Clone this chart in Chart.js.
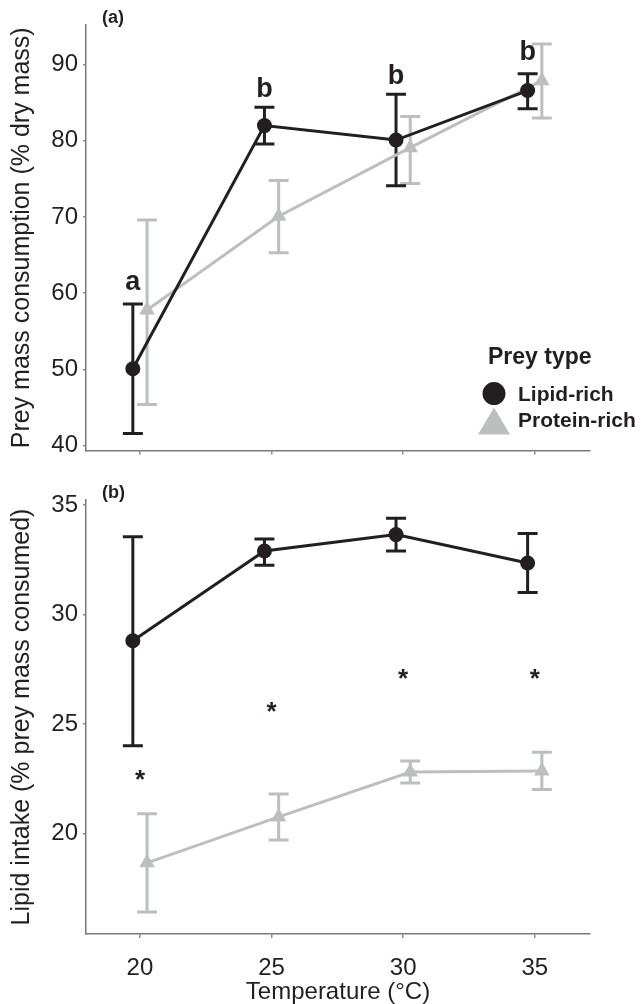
<!DOCTYPE html>
<html>
<head>
<meta charset="utf-8">
<script src="https://cdn.jsdelivr.net/npm/chart.js@4.4.0/dist/chart.umd.min.js"></script>
<style>
body { margin: 0; background: #fff; overflow: hidden; }
#wrap { position: relative; width: 644px; height: 1004px; }
canvas { position: absolute; left: 0; }
#top { top: 0; }
#bottom { top: 470px; }
</style>
</head>
<body>
<div id="wrap">
  <canvas id="top" width="644" height="470"></canvas>
  <canvas id="bottom" width="644" height="534"></canvas>
</div>
<script>
// temperatures (x)
var temps = [20, 25, 30, 35];

// (a) prey mass consumption, % dry mass
var consLipid = [50.1, 82.0, 80.1, 86.6];
var consLipidLo = [41.6, 79.6, 74.1, 84.2];
var consLipidHi = [58.6, 84.4, 86.1, 88.8];
var consProtein = [57.8, 70.1, 79.1, 87.9];
var consProteinLo = [45.4, 65.3, 74.4, 83.0];
var consProteinHi = [69.6, 74.8, 83.2, 92.7];
var consLetters = ['a', 'b', 'b', 'b'];
var consLetterY = [61.4, 86.7, 88.4, 91.6];
var consTicks = [40, 50, 60, 70, 80, 90];

// (b) lipid intake, % prey mass consumed
var lipLipid = [28.8, 32.9, 33.65, 32.35];
var lipLipidLo = [24.0, 32.25, 32.9, 31.0];
var lipLipidHi = [33.55, 33.45, 34.4, 33.7];
var lipProtein = [18.65, 20.75, 22.8, 22.85];
var lipProteinLo = [16.4, 19.7, 22.3, 22.0];
var lipProteinHi = [20.9, 21.8, 23.3, 23.7];
var starY = [22.4, 25.5, 27.0, 27.0];
var lipTicks = [20, 25, 30, 35];

var BLACK = '#231f20';
var GREY = '#bcbec0';
var FONT = "'Liberation Sans', Arial, Helvetica, sans-serif";
var DODGE = 0.27;

function pts(vals, shift) {
    return vals.map(function (v, i) { return { x: temps[i] + shift, y: v }; });
}

function series(label, vals, lo, hi, shift, color, style, radius) {
    return {
        label: label,
        data: pts(vals, shift),
        errLow: lo,
        errHigh: hi,
        borderColor: color,
        backgroundColor: color,
        borderWidth: 3,
        pointStyle: style,
        pointRadius: radius,
        pointBorderWidth: 0,
        pointBackgroundColor: color,
        tension: 0
    };
}

var errorBars = {
    id: 'errorBars',
    beforeDatasetsDraw: function (chart) {
        var ctx = chart.ctx, xs = chart.scales.x, ys = chart.scales.y;
        for (var d = chart.data.datasets.length - 1; d >= 0; d--) {
            var ds = chart.data.datasets[d];
            ctx.save();
            ctx.strokeStyle = ds.borderColor;
            ctx.lineWidth = 3;
            ds.data.forEach(function (p, i) {
                var x = xs.getPixelForValue(p.x);
                var t = ys.getPixelForValue(ds.errHigh[i]);
                var b = ys.getPixelForValue(ds.errLow[i]);
                ctx.beginPath();
                ctx.moveTo(x, t); ctx.lineTo(x, b);
                ctx.moveTo(x - 10, t); ctx.lineTo(x + 10, t);
                ctx.moveTo(x - 10, b); ctx.lineTo(x + 10, b);
                ctx.stroke();
            });
            ctx.restore();
        }
    }
};

function scaleOpts(yMin, yMax, yTicks, yTitle, showX, xHeight) {
    return {
        x: {
            type: 'linear',
            min: 17.95,
            max: 37.1,
            afterBuildTicks: function (s) { s.ticks = temps.map(function (v) { return { value: v }; }); },
            afterFit: function (s) { s.height = xHeight; },
            ticks: { display: showX, color: BLACK, font: { family: FONT, size: 24 }, padding: 16 },
            grid: { drawOnChartArea: false, tickLength: 4, color: '#8a8a8a', lineWidth: 1.5 },
            border: { color: '#7a7a7a', width: 1.5 },
            title: { display: showX, text: 'Temperature (°C)', color: BLACK, font: { family: FONT, size: 24, lineHeight: 1 }, padding: 0 }
        },
        y: {
            min: yMin,
            max: yMax,
            afterBuildTicks: function (s) { s.ticks = yTicks.map(function (v) { return { value: v }; }); },
            afterFit: function (s) { s.width = 86; },
            ticks: { color: BLACK, font: { family: FONT, size: 24 }, padding: 5 },
            grid: { drawOnChartArea: false, tickLength: 3, color: '#8a8a8a', lineWidth: 1.5 },
            border: { color: '#7a7a7a', width: 1.5 },
            title: { display: true, text: yTitle, color: BLACK, font: { family: FONT, size: 25 }, padding: { top: 7, bottom: 0 } }
        }
    };
}

function textPlugin(id, panel, items) {
    return {
        id: id,
        afterDraw: function (chart) {
            var ctx = chart.ctx, xs = chart.scales.x, ys = chart.scales.y;
            ctx.save();
            ctx.fillStyle = BLACK;
            ctx.textAlign = 'center';
            ctx.textBaseline = 'middle';
            items.forEach(function (it) {
                ctx.font = it.font;
                ctx.fillText(it.text, xs.getPixelForValue(it.x), ys.getPixelForValue(it.y));
            });
            ctx.font = 'bold 18px ' + FONT;
            ctx.textAlign = 'left';
            ctx.fillText(panel, chart.chartArea.left + 16, chart.chartArea.top - 7);
            ctx.restore();
        }
    };
}

var legendPlugin = {
    id: 'preyLegend',
    afterDraw: function (chart) {
        var ctx = chart.ctx, a = chart.chartArea;
        var lx = a.right - 96, ty = a.bottom - 93;
        ctx.save();
        ctx.fillStyle = BLACK;
        ctx.textBaseline = 'middle';
        ctx.textAlign = 'left';
        ctx.font = 'bold 23px ' + FONT;
        ctx.fillText('Prey type', lx - 6, ty);
        ctx.beginPath();
        ctx.arc(lx, ty + 36, 11.5, 0, Math.PI * 2);
        ctx.fill();
        ctx.fillStyle = GREY;
        ctx.beginPath();
        ctx.moveTo(lx, ty + 50);
        ctx.lineTo(lx + 16, ty + 77);
        ctx.lineTo(lx - 16, ty + 77);
        ctx.closePath();
        ctx.fill();
        ctx.fillStyle = BLACK;
        ctx.font = 'bold 21px ' + FONT;
        ctx.fillText('Lipid-rich', lx + 24, ty + 38);
        ctx.fillText('Protein-rich', lx + 24, ty + 64);
        ctx.restore();
    }
};

var letterItems = temps.map(function (t, i) {
    return { x: t - DODGE, y: consLetterY[i], text: consLetters[i], font: 'bold 27px ' + FONT };
});
var starItems = temps.map(function (t, i) {
    return { x: t, y: starY[i], text: '*', font: 'bold 26px ' + FONT };
});

new Chart(document.getElementById('top').getContext('2d'), {
    type: 'line',
    data: {
        datasets: [
            series('Lipid-rich', consLipid, consLipidLo, consLipidHi, -DODGE, BLACK, 'circle', 7.5),
            series('Protein-rich', consProtein, consProteinLo, consProteinHi, DODGE, GREY, 'triangle', 9)
        ]
    },
    options: {
        responsive: false,
        animation: false,
        layout: { padding: { top: 25, right: 54, left: 0, bottom: 0 } },
        plugins: { legend: { display: false }, tooltip: { enabled: false } },
        scales: scaleOpts(39.35, 95.2, consTicks, 'Prey mass consumption (% dry mass)', false, 17)
    },
    plugins: [errorBars, textPlugin('lettersA', '(a)', letterItems), legendPlugin]
});

new Chart(document.getElementById('bottom').getContext('2d'), {
    type: 'line',
    data: {
        datasets: [
            series('Lipid-rich', lipLipid, lipLipidLo, lipLipidHi, -DODGE, BLACK, 'circle', 7.5),
            series('Protein-rich', lipProtein, lipProteinLo, lipProteinHi, DODGE, GREY, 'triangle', 9)
        ]
    },
    options: {
        responsive: false,
        animation: false,
        layout: { padding: { top: 30, right: 54, left: 0, bottom: 0 } },
        plugins: { legend: { display: false }, tooltip: { enabled: false } },
        scales: scaleOpts(15.4, 35.23, lipTicks, 'Lipid intake (% prey mass consumed)', true, 70)
    },
    plugins: [errorBars, textPlugin('starsB', '(b)', starItems)]
});
</script>
</body>
</html>
